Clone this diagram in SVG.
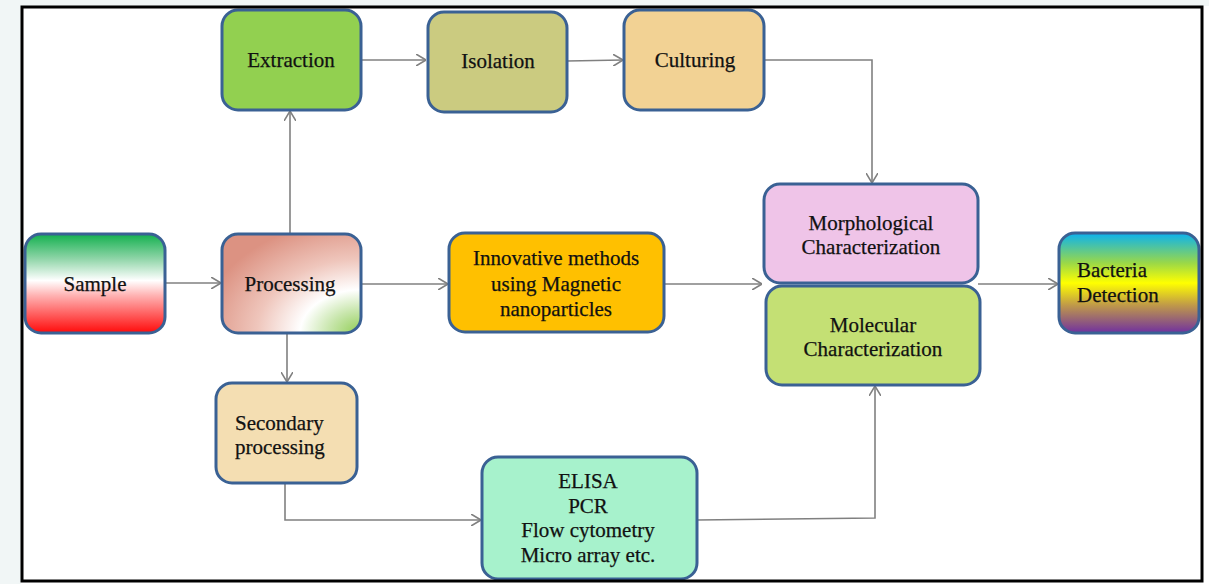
<svg xmlns="http://www.w3.org/2000/svg" width="1209" height="584" viewBox="0 0 1209 584">
<style>
.box{stroke:#3a6194;stroke-width:3}
.t{font-family:"Liberation Serif","Times New Roman",serif;font-size:21px;fill:#111111;stroke:#111111;stroke-width:0.25}
.c{text-anchor:middle}
.conn{fill:none;stroke:#808080;stroke-width:1.6;marker-end:url(#arr)}
</style>
<defs>
<marker id="arr" viewBox="0 0 10 12" refX="10" refY="6" markerWidth="10" markerHeight="12" markerUnits="userSpaceOnUse" orient="auto">
<path d="M0,0 L10,6 L0,12" fill="none" stroke="#808080" stroke-width="1.6"/>
</marker>
<linearGradient id="gSample" x1="0" y1="0" x2="0" y2="1">
<stop offset="0" stop-color="#12b04e"/>
<stop offset="0.25" stop-color="#8fd5a8"/>
<stop offset="0.47" stop-color="#ffffff"/>
<stop offset="0.62" stop-color="#ffb3b3"/>
<stop offset="1" stop-color="#ff0a0a"/>
</linearGradient>
<radialGradient id="gProc" cx="1" cy="1" r="1.15" fx="1" fy="1">
<stop offset="0" stop-color="#8fcd52"/>
<stop offset="0.2" stop-color="#c8e6ac"/>
<stop offset="0.38" stop-color="#ffffff"/>
<stop offset="0.65" stop-color="#efc6bc"/>
<stop offset="1" stop-color="#dc9282"/>
</radialGradient>
<linearGradient id="gBact" x1="0" y1="0" x2="0" y2="1">
<stop offset="0" stop-color="#0ab2f0"/>
<stop offset="0.3" stop-color="#9ad848"/>
<stop offset="0.5" stop-color="#ffff00"/>
<stop offset="0.72" stop-color="#c09a48"/>
<stop offset="1" stop-color="#7030a0"/>
</linearGradient>
</defs>
<rect x="0" y="0" width="1209" height="584" fill="#ffffff"/>
<rect x="0" y="0" width="21" height="584" fill="#f1f6f6"/>
<rect x="0" y="0" width="1209" height="6" fill="#f1f6f6"/>
<rect x="22" y="7" width="1180" height="574" fill="#ffffff"/>

<g id="connectors">
<path class="conn" d="M165,283 H221"/>
<path class="conn" d="M290,234 V111"/>
<path class="conn" d="M361,60 H426"/>
<path class="conn" d="M567,61 L623,60"/>
<path class="conn" d="M764,60 H872 V183"/>
<path class="conn" d="M361,284 H448"/>
<path class="conn" d="M664,284 H762"/>
<path class="conn" d="M978,284 H1058"/>
<path class="conn" d="M287,333 V382"/>
<path class="conn" d="M285,483 V520 H481"/>
<path class="conn" d="M697,520 L875,518 V386"/>
</g>

<g id="extraction">
<rect class="box" x="222" y="10" width="139" height="100" rx="16" fill="#92d050"/>
<text class="t c" x="291" y="67">Extraction</text>
</g>
<g id="isolation">
<rect class="box" x="428" y="12" width="139" height="100" rx="16" fill="#cbcb80"/>
<text class="t c" x="498" y="68">Isolation</text>
</g>
<g id="culturing">
<rect class="box" x="624" y="10" width="140" height="100" rx="16" fill="#f2d294"/>
<text class="t c" x="695" y="67">Culturing</text>
</g>
<g id="sample">
<rect class="box" x="25" y="234" width="140" height="99" rx="16" fill="url(#gSample)"/>
<text class="t c" x="95" y="291">Sample</text>
</g>
<g id="processing">
<rect class="box" x="222" y="234" width="139" height="99" rx="16" fill="url(#gProc)"/>
<text class="t c" x="290" y="291">Processing</text>
</g>
<g id="innovative">
<rect class="box" x="449" y="233" width="215" height="99" rx="16" fill="#ffc000"/>
<text class="t c" x="556" y="265">Innovative methods</text>
<text class="t c" x="556" y="291">using Magnetic</text>
<text class="t c" x="556" y="316">nanoparticles</text>
</g>
<g id="morphological">
<rect class="box" x="764" y="184" width="214" height="99" rx="16" fill="#efc4e8"/>
<text class="t c" x="871" y="230">Morphological</text>
<text class="t c" x="871" y="254">Characterization</text>
</g>
<g id="molecular">
<rect class="box" x="766" y="286" width="214" height="99" rx="16" fill="#c4e074"/>
<text class="t c" x="873" y="332">Molecular</text>
<text class="t c" x="873" y="356">Characterization</text>
</g>
<g id="bacteria">
<rect class="box" x="1059" y="233" width="140" height="100" rx="16" fill="url(#gBact)"/>
<text class="t" x="1077" y="277">Bacteria</text>
<text class="t" x="1077" y="302">Detection</text>
</g>
<g id="secondary">
<rect class="box" x="216" y="383" width="141" height="100" rx="16" fill="#f4deb2"/>
<text class="t" x="235" y="430">Secondary</text>
<text class="t" x="235" y="454">processing</text>
</g>
<g id="elisa">
<rect class="box" x="482" y="457" width="215" height="122" rx="16" fill="#a7f2cc"/>
<text class="t c" x="588" y="488">ELISA</text>
<text class="t c" x="588" y="513">PCR</text>
<text class="t c" x="588" y="537">Flow cytometry</text>
<text class="t c" x="588" y="562">Micro array etc.</text>
</g>
<rect x="22" y="7" width="1180" height="574" fill="none" stroke="#000000" stroke-width="3"/>
</svg>
